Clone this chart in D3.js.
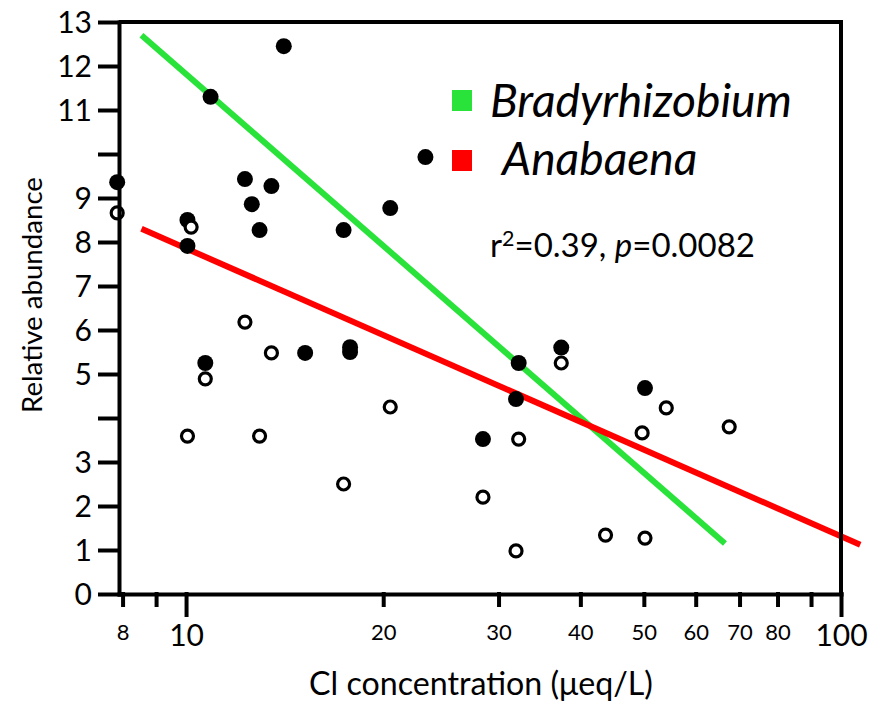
<!DOCTYPE html>
<html>
<head>
<meta charset="utf-8">
<script src="https://cdn.jsdelivr.net/npm/d3@7"></script>
<style>
  body { margin: 0; background: #fff; }
  text { font-family: Lato, "Open Sans", sans-serif; fill: #000; }
</style>
</head>
<body>
<script>
// filled circles (Bradyrhizobium)
var bradyX = [7.85, 10.9, 14.1, 12.3, 13.5, 12.6, 12.95, 10.05, 10.05, 10.7, 15.2, 17.8, 17.8, 17.4, 20.5, 23.2, 32.2, 31.9, 28.4, 37.4, 50.2];
var bradyY = [9.36, 11.3, 12.45, 9.43, 9.27, 8.86, 8.27, 8.5, 7.91, 5.25, 5.48, 5.61, 5.5, 8.27, 8.77, 9.93, 5.25, 4.43, 3.52, 5.6, 4.68];

// open circles (Anabaena)
var anaX = [7.85, 10.18, 12.3, 13.5, 10.7, 10.05, 12.95, 17.4, 20.5, 28.4, 32.2, 31.9, 37.4, 43.7, 50.2, 49.7, 54.1, 67.5];
var anaY = [8.66, 8.34, 6.18, 5.48, 4.89, 3.59, 3.59, 2.5, 4.25, 2.2, 3.52, 0.98, 5.25, 1.34, 1.27, 3.66, 4.23, 3.8];

// fit lines, two end points each
var bradyLineX = [8.55, 66.5];
var bradyLineY = [12.7, 1.15];
var anaLineX = [8.55, 107];
var anaLineY = [8.3, 1.12];

var yTicks = [0, 1, 2, 3, 4, 5, 6, 7, 8, 9, 10, 11, 12, 13];
var yLabels = [0, 1, 2, 3, 5, 6, 7, 8, 9, 11, 12, 13];
var xTicks = [8, 9, 10, 20, 30, 40, 50, 60, 70, 80, 90, 100];
var xLabels = [8, 10, 20, 30, 40, 50, 60, 70, 80, 100];
var xMajor = [10, 100];

var green = "#29e23a", red = "#ff0000";

var svgWidth = 873, svgHeight = 704;
var svg = d3.select("body").append("svg")
    .attr("width", svgWidth)
    .attr("height", svgHeight);

var x = d3.scaleLog().domain([7.9, 100]).range([119, 841]);
var y = d3.scaleLinear().domain([0, 13]).range([594, 22]);

function fit(t, w) {
  var len = t.node().getComputedTextLength();
  var fs = parseFloat(t.attr("font-size"));
  t.attr("font-size", fs * w / len);
}

// lines
var line = d3.line().x(function(d) { return x(d[0]); }).y(function(d) { return y(d[1]); });
svg.append("path")
  .attr("d", line(d3.zip(bradyLineX, bradyLineY)))
  .attr("stroke", green).attr("stroke-width", 6).attr("fill", "none");
svg.append("path")
  .attr("d", line(d3.zip(anaLineX, anaLineY)))
  .attr("stroke", red).attr("stroke-width", 6).attr("fill", "none");

// points
svg.selectAll("circle.brady")
  .data(d3.zip(bradyX, bradyY))
  .enter().append("circle")
  .attr("class", "brady")
  .attr("cx", function(d) { return x(d[0]); })
  .attr("cy", function(d) { return y(d[1]); })
  .attr("r", 8)
  .attr("fill", "#000");

svg.selectAll("circle.ana")
  .data(d3.zip(anaX, anaY))
  .enter().append("circle")
  .attr("class", "ana")
  .attr("cx", function(d) { return x(d[0]); })
  .attr("cy", function(d) { return y(d[1]); })
  .attr("r", 6)
  .attr("fill", "#fff")
  .attr("stroke", "#000")
  .attr("stroke-width", 3.2);

// y axis
var yAxis = svg.append("g")
  .attr("transform", "translate(119,0)")
  .call(d3.axisLeft(y)
    .tickValues(yTicks)
    .tickFormat(function(d) { return yLabels.indexOf(d) >= 0 ? d : ""; })
    .tickSize(19)
    .tickSizeOuter(0)
    .tickPadding(8));
yAxis.selectAll("text").attr("font-size", 30).attr("font-family", "Lato").attr("dy", "0.36em");

// x axis
var xAxis = svg.append("g")
  .attr("transform", "translate(0,594)")
  .call(d3.axisBottom(x)
    .tickValues(xTicks)
    .tickFormat(function(d) { return xLabels.indexOf(d) >= 0 ? d : ""; })
    .tickSize(11)
    .tickSizeOuter(0));
xAxis.selectAll(".tick line")
  .attr("y2", function(d) { return xMajor.indexOf(d) >= 0 ? 21 : 11; });
xAxis.selectAll("text")
  .attr("dy", null)
  .attr("font-family", "Lato")
  .attr("y", function(d) { return xMajor.indexOf(d) >= 0 ? 52 : 46; })
  .attr("font-size", function(d) { return xMajor.indexOf(d) >= 0 ? 30 : 22; });

svg.selectAll(".domain, .tick line")
  .attr("stroke", "#000")
  .attr("stroke-width", 4)
  .attr("stroke-linecap", "square");

// frame top and right
svg.append("path")
  .attr("d", "M" + x.range()[0] + "," + y(13) + "H" + x(100) + "V" + y(0))
  .attr("stroke", "#000").attr("stroke-width", 4).attr("fill", "none");

// titles
var yt = svg.append("text")
  .attr("transform", "translate(42,295) rotate(-90)")
  .attr("text-anchor", "middle")
  .attr("font-size", 26)
  .text("Relative abundance");
fit(yt, 236);

var xt = svg.append("text")
  .attr("x", 481).attr("y", 695)
  .attr("text-anchor", "middle")
  .attr("font-size", 26)
  .text("Cl concentration (\u03bceq/L)");
fit(xt, 344);

// legend
svg.append("rect").attr("x", 452).attr("y", 90).attr("width", 20).attr("height", 21).attr("fill", green);
svg.append("rect").attr("x", 452).attr("y", 150).attr("width", 20).attr("height", 21).attr("fill", red);
var l1 = svg.append("text").attr("x", 490).attr("y", 117)
  .attr("font-size", 40).attr("font-style", "italic").text("Bradyrhizobium");
fit(l1, 302);
var l2 = svg.append("text").attr("x", 502).attr("y", 175)
  .attr("font-size", l1.attr("font-size")).attr("font-style", "italic").text("Anabaena");

var stat = svg.append("text").attr("x", 490).attr("y", 257).attr("font-size", 32);
stat.append("tspan").text("r");
stat.append("tspan").attr("font-size", "0.65em").attr("dy", "-0.5em").text("2");
stat.append("tspan").attr("dy", "0.32em").text("=0.39, ");
stat.append("tspan").attr("font-style", "italic").text("p");
stat.append("tspan").text("=0.0082");
fit(stat, 265);
</script>
</body>
</html>
